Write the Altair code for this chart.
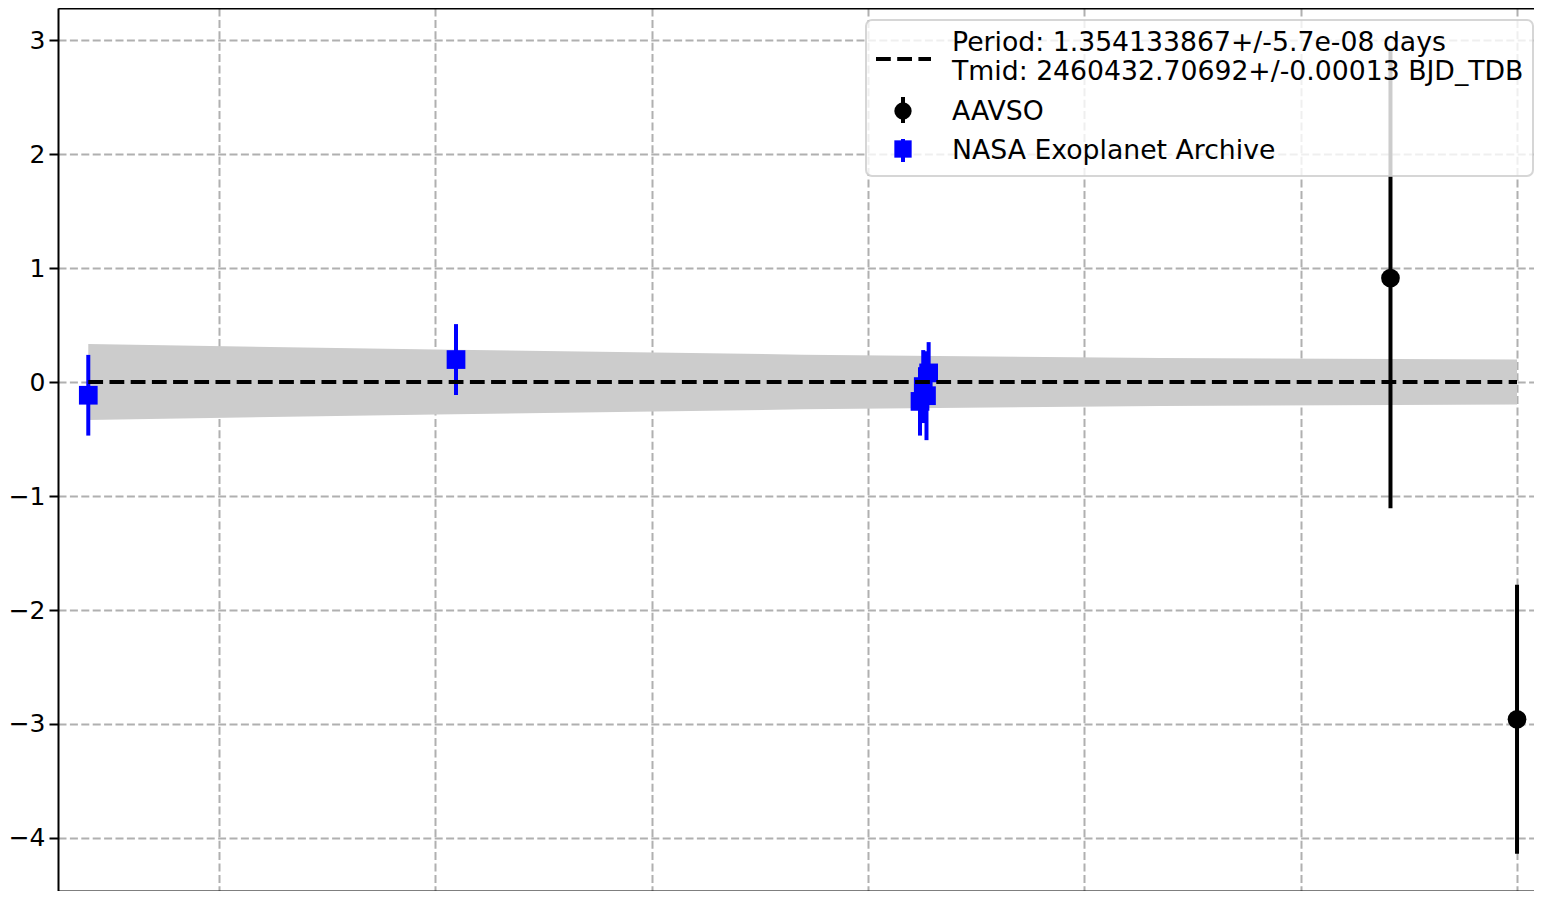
import altair as alt
import pandas as pd

# ---- data ----
nasa_epoch = [-1321, -981, -552, -549, -546, -544]
nasa_oc = [-0.116, 0.197, -0.17, -0.04, -0.12, 0.08]
nasa_err = [0.354, 0.311, 0.30, 0.32, 0.39, 0.27]

aavso_epoch = [-117, 0]
aavso_oc = [0.912, -2.959]
aavso_err = [2.02, 1.18]

band_epoch = [-1321, -1000, -660, -330, 0]
band_half = [0.333, 0.285, 0.240, 0.210, 0.197]
model_oc = [0.0, 0.0, 0.0, 0.0, 0.0]

x_grid_ticks = [-1200, -1000, -800, -600, -400, -200, 0]
x_top_ticks = [-1321, -1056.8, -792.6, -528.4, -264.2, 0]
y_ticks = [-4, -3, -2, -1, 0, 1, 2, 3]

legend_labels = [
    "Period: 1.354133867+/-5.7e-08 days",
    "Tmid: 2460432.70692+/-0.00013 BJD_TDB",
    "AAVSO",
    "NASA Exoplanet Archive",
]

# ---- tables ----
nasa_df = pd.DataFrame({"epoch": nasa_epoch, "oc": nasa_oc, "err": nasa_err})
nasa_df["lo"] = nasa_df["oc"] - nasa_df["err"]
nasa_df["hi"] = nasa_df["oc"] + nasa_df["err"]

aavso_df = pd.DataFrame({"epoch": aavso_epoch, "oc": aavso_oc, "err": aavso_err})
aavso_df["lo"] = aavso_df["oc"] - aavso_df["err"]
aavso_df["hi"] = aavso_df["oc"] + aavso_df["err"]

band_df = pd.DataFrame({"epoch": band_epoch, "half": band_half, "model": model_oc})
band_df["lo"] = band_df["model"] - band_df["half"]
band_df["hi"] = band_df["model"] + band_df["half"]

one = pd.DataFrame({"k": [0]})

W, H = 1476, 883
FONT = "DejaVu Sans"
FS = 26.7
TICK_FS = 25
xscale = alt.Scale(domain=[-1349.0, 15.7], nice=False, zero=False)
yscale = alt.Scale(domain=[-4.465, 3.281], nice=False, zero=False)

grid_style = dict(grid=True, gridColor="#b0b0b0", gridDash=[8, 3.4], gridWidth=2, gridOpacity=1)
tick_style = dict(ticks=True, tickSize=9, tickWidth=2, tickColor="black",
                  domain=True, domainColor="black", domainWidth=2)

y_axis = alt.Axis(orient="left", values=y_ticks, title=None, labelFontSize=TICK_FS,
                  labelFont=FONT, labelColor="black", labelPadding=4,
                  **grid_style, **tick_style)

# invisible layer that carries the bottom x axis and the left y axis
axes_layer = alt.Chart(band_df).mark_point(opacity=0).encode(
    x=alt.X("epoch:Q", scale=xscale,
            axis=alt.Axis(orient="bottom", values=x_grid_ticks, labels=False, title=None,
                          **grid_style, **tick_style)),
    y=alt.Y("model:Q", scale=yscale, axis=y_axis),
)

band = alt.Chart(band_df).mark_area(color="#cccccc", opacity=1).encode(
    x=alt.X("epoch:Q", scale=xscale, axis=None),
    y=alt.Y("lo:Q", scale=yscale, axis=y_axis),
    y2="hi:Q",
)

nasa_bars = alt.Chart(nasa_df).mark_rule(color="#0000ff", strokeWidth=4).encode(
    x=alt.X("epoch:Q", scale=xscale, axis=None),
    y=alt.Y("lo:Q", scale=yscale, axis=y_axis),
    y2="hi:Q",
)
nasa_pts = alt.Chart(nasa_df).mark_square(color="#0000ff", size=350, opacity=1).encode(
    x=alt.X("epoch:Q", scale=xscale, axis=None),
    y=alt.Y("oc:Q", scale=yscale, axis=y_axis),
)

aavso_bars = alt.Chart(aavso_df).mark_rule(color="black", strokeWidth=4).encode(
    x=alt.X("epoch:Q", scale=xscale, axis=None),
    y=alt.Y("lo:Q", scale=yscale, axis=y_axis),
    y2="hi:Q",
)
aavso_pts = alt.Chart(aavso_df).mark_circle(color="black", size=350, opacity=1).encode(
    x=alt.X("epoch:Q", scale=xscale, axis=None),
    y=alt.Y("oc:Q", scale=yscale, axis=y_axis),
)

model_line = alt.Chart(band_df).mark_line(color="black", strokeWidth=4, strokeDash=[14.8, 6.4]).encode(
    x=alt.X("epoch:Q", scale=xscale,
            axis=alt.Axis(orient="top", values=x_top_ticks, labels=False, title=None,
                          grid=False, **tick_style)),
    y=alt.Y("model:Q", scale=yscale, axis=y_axis),
)

# ---- legend (drawn by hand) ----
legend_box = alt.Chart(one).mark_rect(
    fill="white", fillOpacity=0.8, stroke="#cccccc", strokeOpacity=0.8,
    strokeWidth=2, cornerRadius=6
).encode(x=alt.value(808), x2=alt.value(1475), y=alt.value(12), y2=alt.value(168))

leg_dash = alt.Chart(one).mark_rule(color="black", strokeWidth=4, strokeDash=[14.8, 6.4]).encode(
    x=alt.value(818), x2=alt.value(873), y=alt.value(51))
leg_a_bar = alt.Chart(one).mark_rule(color="black", strokeWidth=4).encode(
    x=alt.value(845), y=alt.value(89), y2=alt.value(115))
leg_a_pt = alt.Chart(one).mark_circle(color="black", size=300, opacity=1).encode(
    x=alt.value(845), y=alt.value(103))
leg_n_bar = alt.Chart(one).mark_rule(color="#0000ff", strokeWidth=4).encode(
    x=alt.value(845), y=alt.value(131), y2=alt.value(154))
leg_n_pt = alt.Chart(one).mark_square(color="#0000ff", size=300, opacity=1).encode(
    x=alt.value(845), y=alt.value(141))

def leg_text(label, ypos):
    return alt.Chart(one).mark_text(
        text=label, font=FONT, fontSize=FS, color="black", align="left", baseline="alphabetic"
    ).encode(x=alt.value(894), y=alt.value(ypos))

texts = [leg_text(legend_labels[0], 42.5), leg_text(legend_labels[1], 71.5),
         leg_text(legend_labels[2], 111.5), leg_text(legend_labels[3], 150.5)]

chart = alt.layer(
    axes_layer, band, nasa_bars, nasa_pts, aavso_bars, aavso_pts, model_line,
    legend_box, leg_dash, leg_a_bar, leg_a_pt, leg_n_bar, leg_n_pt, *texts
).resolve_axis(x="independent").properties(
    width=W, height=H,
    autosize=alt.AutoSizeParams(type="none"),
    padding={"left": 50, "top": 0, "right": 0, "bottom": 0},
).configure_view(stroke=None).configure(font=FONT)

chart.save("out.html", embed_options={"renderer": "svg", "actions": False})
